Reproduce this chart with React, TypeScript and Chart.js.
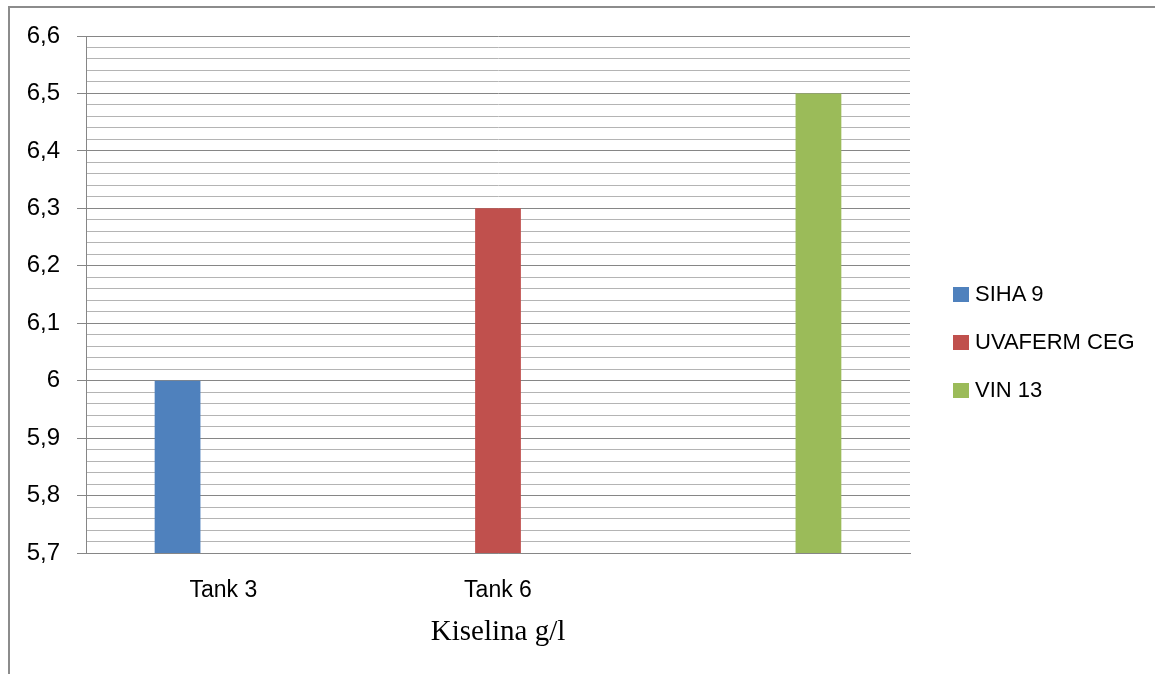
import React, { useEffect, useRef } from "react";
import { Chart, registerables } from "chart.js";

Chart.register(...registerables);

const categories = ["Tank 3", "Tank 6", ""];
const seriesNames = ["SIHA 9", "UVAFERM CEG", "VIN 13"];
const seriesColors = ["#4F81BD", "#C0504D", "#9BBB59"];
const siha9 = [6.0, null, null];
const uvafermCeg = [null, 6.3, null];
const vin13 = [null, null, 6.5];
const yMin = 5.7;
const yMax = 6.6;
const minorStep = 0.02;
const axisTitle = "Kiselina g/l";

const isMajor = (v: number) => Math.abs(v * 10 - Math.round(v * 10)) < 1e-6;

export default function App() {
  const canvasRef = useRef<HTMLCanvasElement | null>(null);

  useEffect(() => {
    const canvas = canvasRef.current;
    if (!canvas) return;
    const chart = new Chart(canvas, {
      type: "bar",
      data: {
        labels: categories,
        datasets: [siha9, uvafermCeg, vin13].map((d, i) => ({
          label: seriesNames[i],
          data: d,
          backgroundColor: seriesColors[i],
          borderWidth: 0,
          categoryPercentage: 0.5,
          barPercentage: 1,
        })),
      },
      options: {
        responsive: false,
        animation: false,
        devicePixelRatio: 1,
        layout: { padding: { left: 0, top: 36, right: 245, bottom: 0 } },
        plugins: { legend: { display: false }, tooltip: { enabled: false }, title: { display: false } },
        scales: {
          x: {
            grid: { display: false },
            border: { display: true, color: "#868686", width: 1 },
            ticks: {
              color: "#000",
              font: { family: "'Liberation Sans', Arial, sans-serif", size: 23 },
              padding: 16,
              maxRotation: 0,
              autoSkip: false,
            },
            title: {
              display: true,
              text: axisTitle,
              color: "#000",
              font: { family: "'Liberation Serif', 'Times New Roman', serif", size: 29 },
              padding: { top: 0, bottom: 24 },
            },
            afterFit: (scale: any) => {
              scale.height = 121;
            },
          },
          y: {
            min: yMin,
            max: yMax,
            afterBuildTicks: (scale: any) => {
              const n = Math.round((yMax - yMin) / minorStep);
              const ticks = [];
              for (let i = 0; i <= n; i++) {
                ticks.push({ value: Math.round((yMin + i * minorStep) * 1000) / 1000 });
              }
              scale.ticks = ticks;
            },
            grid: {
              color: (ctx: any) => (ctx.tick && isMajor(ctx.tick.value) ? "#868686" : "#B4B4B4"),
              tickColor: (ctx: any) => (ctx.tick && isMajor(ctx.tick.value) ? "#868686" : "rgba(0,0,0,0)"),
              tickLength: 9,
              lineWidth: 1,
            },
            border: { display: true, color: "#868686", width: 1 },
            ticks: {
              autoSkip: false,
              color: "#000",
              font: { family: "'Liberation Sans', Arial, sans-serif", size: 24 },
              padding: 17,
              callback: (value: any) => {
                const v = Number(value);
                if (!isMajor(v)) return "";
                const r = Math.round(v * 10) / 10;
                return (Number.isInteger(r) ? String(r) : r.toFixed(1)).replace(".", ",");
              },
            },
            afterFit: (scale: any) => {
              scale.width = 86;
            },
          },
        },
      },
    });
    return () => chart.destroy();
  }, []);

  return (
    <div style={{ position: "absolute", left: 0, top: 0, width: 1155, height: 674, background: "#fff", overflow: "hidden" }}>
      <div
        style={{
          position: "absolute",
          left: 8,
          top: 6,
          width: 1160,
          height: 680,
          borderLeft: "2px solid #8c8c8c",
          borderTop: "2px solid #8c8c8c",
          boxSizing: "border-box",
        }}
      />
      <canvas
        ref={canvasRef}
        width={1155}
        height={674}
        style={{ position: "absolute", left: 0, top: 0, width: 1155, height: 674 }}
      />
      {seriesNames.map((name, i) => (
        <div
          key={name}
          style={{
            position: "absolute",
            left: 953,
            top: 294 + i * 48 - 13,
            height: 26,
            display: "flex",
            alignItems: "center",
            fontFamily: "'Liberation Sans', Arial, sans-serif",
            fontSize: 22,
            color: "#000",
            whiteSpace: "nowrap",
          }}
        >
          <span style={{ display: "inline-block", width: 16, height: 15, background: seriesColors[i], marginRight: 6 }} />
          {name}
        </div>
      ))}
    </div>
  );
}
